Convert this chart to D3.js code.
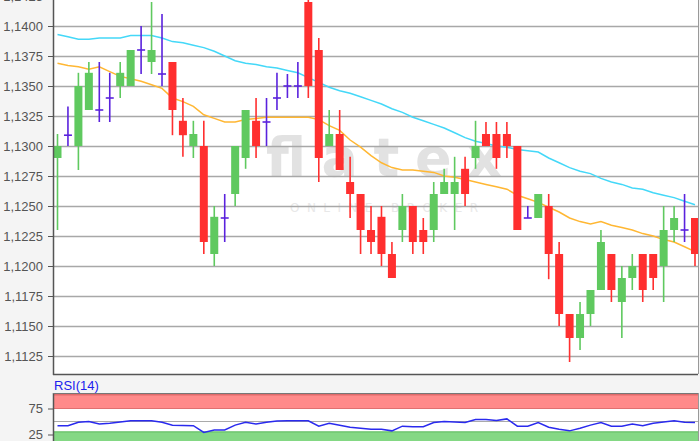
<!DOCTYPE html>
<meta charset="utf-8">
<head>
<style>
body { margin: 0; background: #f4f4f4; }
svg { display: block; }
.axis text { font: 13px "Liberation Sans", Arial, sans-serif; fill: #555; }
</style>
<script src="https://d3js.org/d3.v7.min.js"></script>
</head>
<body>
<svg id="chart"></svg>
<script>

// candles
var opens  = [1.1290,1.1309,1.1300,1.1330,1.1330,1.1340,1.1350,1.1350,1.1380,1.1370,1.1360,1.1370,1.1321,1.1300,1.1300,1.1210,1.1240,1.1260,1.1290,1.1321,1.1320,1.1340,1.1350,1.1350,1.1420,1.1380,1.1300,1.1310,1.1270,1.1260,1.1230,1.1241,1.1210,1.1230,1.1250,1.1230,1.1230,1.1260,1.1260,1.1281,1.1290,1.1310,1.1310,1.1310,1.1300,1.1240,1.1240,1.1250,1.1210,1.1160,1.1140,1.1160,1.1180,1.1210,1.1170,1.1190,1.1210,1.1210,1.1200,1.1230,1.1230,1.1240]
var highs  = [1.1310,1.1333,1.1361,1.1370,1.1370,1.1361,1.1370,1.1380,1.1400,1.1420,1.1410,1.1370,1.1340,1.1321,1.1321,1.1250,1.1260,1.1300,1.1330,1.1340,1.1340,1.1361,1.1360,1.1370,1.1423,1.1390,1.1330,1.1330,1.1291,1.1260,1.1250,1.1250,1.1220,1.1260,1.1250,1.1240,1.1270,1.1281,1.1291,1.1291,1.1321,1.1320,1.1320,1.1320,1.1300,1.1250,1.1260,1.1260,1.1220,1.1160,1.1170,1.1180,1.1230,1.1210,1.1200,1.1210,1.1210,1.1210,1.1250,1.1250,1.1260,1.1240]
var lows   = [1.1230,1.1300,1.1280,1.1330,1.1320,1.1320,1.1340,1.1350,1.1360,1.1360,1.1350,1.1309,1.1291,1.1290,1.1210,1.1200,1.1220,1.1250,1.1281,1.1290,1.1300,1.1330,1.1340,1.1340,1.1340,1.1270,1.1300,1.1280,1.1240,1.1210,1.1210,1.1200,1.1190,1.1220,1.1210,1.1210,1.1220,1.1260,1.1230,1.1250,1.1281,1.1300,1.1281,1.1290,1.1230,1.1240,1.1240,1.1189,1.1150,1.1120,1.1130,1.1150,1.1180,1.1170,1.1140,1.1180,1.1170,1.1180,1.1170,1.1220,1.1220,1.1200]
var closes = [1.1300,1.1309,1.1350,1.1361,1.1330,1.1340,1.1361,1.1380,1.1380,1.1380,1.1360,1.1330,1.1309,1.1310,1.1220,1.1241,1.1240,1.1300,1.1330,1.1300,1.1320,1.1340,1.1350,1.1350,1.1350,1.1290,1.1310,1.1280,1.1260,1.1230,1.1220,1.1210,1.1190,1.1250,1.1220,1.1220,1.1260,1.1270,1.1270,1.1260,1.1300,1.1300,1.1290,1.1300,1.1230,1.1240,1.1260,1.1210,1.1160,1.1140,1.1160,1.1180,1.1220,1.1180,1.1190,1.1200,1.1180,1.1190,1.1230,1.1240,1.1230,1.1210]

// moving averages
var maSlow = [1.1393,1.1391,1.1389,1.1389,1.1390,1.1390,1.1390,1.1392,1.1392,1.1392,1.1390,1.1387,1.1386,1.1384,1.1382,1.1379,1.1375,1.1371,1.1369,1.1368,1.1366,1.1365,1.1363,1.1361,1.1357,1.1353,1.1349,1.1346,1.1344,1.1341,1.1338,1.1335,1.1331,1.1328,1.1324,1.1321,1.1318,1.1315,1.1311,1.1307,1.1304,1.1302,1.1300,1.1299,1.1297,1.1296,1.1295,1.1290,1.1286,1.1282,1.1279,1.1277,1.1273,1.1270,1.1268,1.1265,1.1264,1.1261,1.1259,1.1257,1.1254,1.1251]
var maFast = [1.1369,1.1367,1.1366,1.1364,1.1366,1.1362,1.1358,1.1356,1.1354,1.1351,1.1348,1.1340,1.1337,1.1333,1.1326,1.1323,1.1320,1.1320,1.1322,1.1323,1.1324,1.1324,1.1324,1.1324,1.1324,1.1322,1.1317,1.1313,1.1305,1.1299,1.1292,1.1286,1.1282,1.1280,1.1280,1.1279,1.1278,1.1275,1.1274,1.1272,1.1270,1.1268,1.1266,1.1264,1.1259,1.1256,1.1253,1.1249,1.1245,1.1240,1.1237,1.1235,1.1237,1.1234,1.1232,1.1230,1.1227,1.1225,1.1222,1.1220,1.1216,1.1212]

// RSI(14)
var rsi = [42,42,48.5,50,45,46.5,49,51.5,51.5,51.5,48.5,43,42.5,42,29,33.6,33.6,43,48.5,45,48.5,51,51.5,51.5,51.5,41,46.5,43,39,37,35,35,32,41,40,40,48,50,49,48,54,54,52,55,41,41,48,39,35,32,37,43,48,41,41,45,42,46.5,49,51.5,48.5,48]

var priceTicks = d3.range(1.1125, 1.14251, 0.0025)
var rsiTicks = [25, 75]

var W = 700, H = 441
var pLeft = 53, pRight = 698
var pTop = -4, pBottom = 374
var rsiTop = 393, rsiBottom = 448

var svg = d3.select('#chart').attr('width', W).attr('height', H)

var x = d3.scaleLinear().domain([0, opens.length - 1]).range([57.5, 695])
var y = d3.scaleLinear().domain([1.1110, 1.1425]).range([pBottom, pTop])
var yr = d3.scaleLinear().domain([0, 100]).range([447.5, 395.5])

var fmt = function (d) { return d3.format('.4f')(d).replace('.', ',') }

var defs = svg.append('defs')
defs.append('clipPath').attr('id', 'clip')
  .append('rect').attr('x', pLeft).attr('y', pTop).attr('width', pRight - pLeft).attr('height', pBottom - pTop)
defs.append('clipPath').attr('id', 'clipr')
  .append('rect').attr('x', pLeft).attr('y', rsiTop).attr('width', pRight - pLeft).attr('height', rsiBottom - rsiTop)

// main plot background
svg.append('rect').attr('x', pLeft).attr('y', pTop).attr('width', pRight - pLeft).attr('height', pBottom - pTop).attr('fill', '#fff')

// watermark
var wm = svg.append('g').attr('clip-path', 'url(#clip)')
wm.append('text')
  .attr('x', 266).attr('y', 176)
  .attr('textLength', 236).attr('lengthAdjust', 'spacing')
  .style('font', 'bold 54px "DejaVu Sans", sans-serif')
  .attr('fill', '#e2e2e2')
  .text('flatex')
wm.append('text')
  .attr('x', 290).attr('y', 212)
  .attr('textLength', 188).attr('lengthAdjust', 'spacing')
  .style('font', '12px "DejaVu Sans", sans-serif')
  .attr('fill', '#e8e8e8')
  .text('ONLINE BROKER')

// grid
svg.append('g').selectAll('line').data(priceTicks).enter().append('line')
  .attr('x1', pLeft).attr('x2', pRight)
  .attr('y1', function (d) { return Math.round(y(d)) + 0.5 })
  .attr('y2', function (d) { return Math.round(y(d)) + 0.5 })
  .attr('stroke', '#a8a8a8').attr('stroke-width', 1.5)

// y axis
var ax = svg.append('g').attr('class', 'axis').attr('transform', 'translate(' + pLeft + ',0)')
  .call(d3.axisLeft(y).tickValues(priceTicks).tickFormat(fmt).tickSize(5).tickPadding(5))
ax.select('.domain').remove()
ax.selectAll('.tick line').attr('stroke', '#555')

// moving averages
var plot = svg.append('g').attr('clip-path', 'url(#clip)')
var line = function (arr) {
  return d3.line().x(function (d, i) { return x(i) }).y(function (d) { return y(d) })(arr)
}
plot.append('path').attr('d', line(maSlow)).attr('fill', 'none').attr('stroke', '#44d8f8').attr('stroke-width', 1.5)
plot.append('path').attr('d', line(maFast)).attr('fill', 'none').attr('stroke', '#ffb733').attr('stroke-width', 1.5)

// candles
var candles = opens.map(function (o, i) {
  return { i: i, o: o, h: highs[i], l: lows[i], c: closes[i] }
})
var isDoji = function (d) { return Math.abs(d.o - d.c) < 0.00015 }
var colour = function (d) {
  if (isDoji(d)) return '#5a22dd'
  return d.c > d.o ? '#5fc95f' : '#ff2f2f'
}
var bw = 8
var g = plot.selectAll('.candle').data(candles).enter().append('g').attr('class', 'candle')
g.append('line')
  .attr('x1', function (d) { return x(d.i) }).attr('x2', function (d) { return x(d.i) })
  .attr('y1', function (d) { return y(d.h) }).attr('y2', function (d) { return y(d.l) })
  .attr('stroke', colour).attr('stroke-width', 1.6)
g.filter(function (d) { return !isDoji(d) }).append('rect')
  .attr('x', function (d) { return x(d.i) - bw / 2 })
  .attr('width', bw)
  .attr('y', function (d) { return y(Math.max(d.o, d.c)) })
  .attr('height', function (d) { return Math.abs(y(d.o) - y(d.c)) })
  .attr('fill', colour)
g.filter(isDoji).append('line')
  .attr('x1', function (d) { return x(d.i) - bw / 2 }).attr('x2', function (d) { return x(d.i) + bw / 2 })
  .attr('y1', function (d) { return y(d.c) }).attr('y2', function (d) { return y(d.c) })
  .attr('stroke', colour).attr('stroke-width', 1.6)

// frame
svg.append('line').attr('x1', pLeft + 0.5).attr('x2', pLeft + 0.5).attr('y1', pTop).attr('y2', pBottom + 1).attr('stroke', '#555').attr('stroke-width', 1.5)
svg.append('line').attr('x1', pLeft).attr('x2', pRight).attr('y1', pBottom + 0.5).attr('y2', pBottom + 0.5).attr('stroke', '#555').attr('stroke-width', 1.5)
svg.append('line').attr('x1', pRight + 0.5).attr('x2', pRight + 0.5).attr('y1', pTop).attr('y2', pBottom).attr('stroke', '#999').attr('stroke-width', 1)

// RSI panel
svg.append('text').attr('x', 54).attr('y', 390)
  .style('font', '13px "Liberation Sans", Arial, sans-serif').attr('fill', '#2020ee')
  .text('RSI(14)')

svg.append('rect').attr('x', pLeft).attr('y', rsiTop).attr('width', pRight - pLeft).attr('height', rsiBottom - rsiTop).attr('fill', '#fff')
svg.append('rect').attr('x', pLeft).attr('y', rsiTop).attr('width', pRight - pLeft).attr('height', yr(75) - rsiTop).attr('fill', '#ff8a8a')
svg.append('rect').attr('x', pLeft).attr('y', rsiTop).attr('width', pRight - pLeft).attr('height', 2.5).attr('fill', '#e06a6a')
svg.append('line').attr('x1', pLeft).attr('x2', pRight).attr('y1', yr(75)).attr('y2', yr(75)).attr('stroke', '#e07070').attr('stroke-width', 1.2)
svg.append('rect').attr('x', pLeft).attr('y', yr(30)).attr('width', pRight - pLeft).attr('height', rsiBottom - yr(30)).attr('fill', '#84d884')
svg.append('line').attr('x1', pLeft).attr('x2', pRight).attr('y1', yr(30)).attr('y2', yr(30)).attr('stroke', '#66c066').attr('stroke-width', 1.2)
svg.append('line').attr('x1', pLeft).attr('x2', pRight).attr('y1', yr(50)).attr('y2', yr(50)).attr('stroke', '#aaa').attr('stroke-width', 1.2)

var rax = svg.append('g').attr('class', 'axis').attr('transform', 'translate(' + pLeft + ',0)')
  .call(d3.axisLeft(yr).tickValues(rsiTicks).tickSize(5).tickPadding(5))
rax.select('.domain').remove()
rax.selectAll('.tick line').attr('stroke', '#555')

svg.append('g').attr('clip-path', 'url(#clipr)').append('path')
  .attr('d', d3.line().x(function (d, i) { return x(i) }).y(function (d) { return yr(d) })(rsi))
  .attr('fill', 'none').attr('stroke', '#2a2aee').attr('stroke-width', 1.5)

svg.append('line').attr('x1', pLeft + 0.5).attr('x2', pLeft + 0.5).attr('y1', rsiTop).attr('y2', rsiBottom).attr('stroke', '#555').attr('stroke-width', 1.5)
svg.append('line').attr('x1', pLeft).attr('x2', pRight).attr('y1', rsiTop + 0.5).attr('y2', rsiTop + 0.5).attr('stroke', '#777').attr('stroke-width', 1)
svg.append('line').attr('x1', pRight + 0.5).attr('x2', pRight + 0.5).attr('y1', rsiTop).attr('y2', rsiBottom).attr('stroke', '#999').attr('stroke-width', 1)

</script>
</body>
